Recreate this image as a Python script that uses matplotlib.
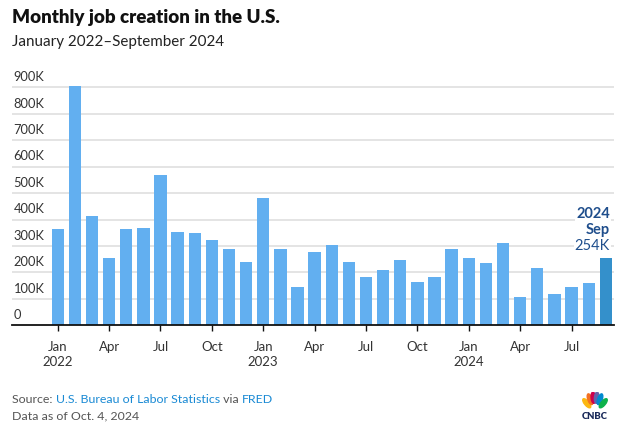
import matplotlib
matplotlib.use("Agg")
import matplotlib.pyplot as plt
import matplotlib.transforms as mtransforms
from matplotlib.patches import Ellipse
import numpy as np

plt.rcParams['font.family'] = ['Lato', 'DejaVu Sans']

# monthly payroll change, thousands (Jan 2022 - Sep 2024)
months = ['Jan', 'Feb', 'Mar', 'Apr', 'May', 'Jun',
          'Jul', 'Aug', 'Sep', 'Oct', 'Nov', 'Dec']
years = [2022, 2023, 2024]
jobs_2022 = [363, 905, 414, 253, 363, 369, 567, 352, 349, 324, 290, 240]
jobs_2023 = [483, 288, 145, 277, 303, 240, 184, 210, 246, 165, 182, 290]
jobs_2024 = [256, 236, 310, 107, 216, 117, 144, 159, 254]
jobs = jobs_2022 + jobs_2023 + jobs_2024

y_ticks = [0, 100, 200, 300, 400, 500, 600, 700, 800, 900]
y_tick_labels = ['0', '100K', '200K', '300K', '400K', '500K',
                 '600K', '700K', '800K', '900K']

bar_col = '#62AFF0'
last_col = '#3490CB'
note_col = '#1F4E8C'

fig = plt.figure(figsize=(6.24, 4.32), dpi=100)
ax = fig.add_axes([0.0192, 0.247, 0.9648, 0.5815])

x = np.arange(len(jobs))
colors = [bar_col] * (len(jobs) - 1) + [last_col]
ax.bar(x, jobs, width=0.72, color=colors, zorder=2)

ax.set_xlim(-2.67, 32.48)
ax.set_ylim(0, 950)

# gridlines + labels sitting on top of them
for v, lab in zip(y_ticks, y_tick_labels):
    if v > 0:
        ax.axhline(v, color='#DCDCDC', lw=1.1, zorder=1)
    ax.text(0.0025, v + 16, lab, transform=ax.get_yaxis_transform(),
            ha='left', va='bottom', fontsize=9.3, color='#333333')

ax.set_yticks([])
for s in ['left', 'right', 'top']:
    ax.spines[s].set_visible(False)
ax.spines['bottom'].set_linewidth(1.3)
ax.spines['bottom'].set_color('#111111')

# quarter ticks
tick_pos = []
tick_lab = []
for i in range(len(jobs)):
    m = i % 12
    if m % 3 == 0:
        tick_pos.append(i)
        if m == 0:
            tick_lab.append(months[m] + '\n' + str(years[i // 12]))
        else:
            tick_lab.append(months[m])
ax.set_xticks(tick_pos)
ax.set_xticklabels(tick_lab, fontsize=9.5, color='#333333', linespacing=1.35)
ax.tick_params(axis='x', length=4, width=1, color='#111111', pad=7)

# last value callout
last = len(jobs) - 1
box = dict(facecolor='white', edgecolor='none', pad=0.5)
ax.annotate('254K', xy=(last + 0.36, jobs[-1]), xytext=(-1.5, 9),
            textcoords='offset points', ha='right', va='center',
            fontsize=10.5, color=note_col, bbox=box, zorder=3)
ax.annotate('Sep', xy=(last + 0.36, jobs[-1]), xytext=(-1.5, 20.5),
            textcoords='offset points', ha='right', va='center',
            fontsize=10.5, color=note_col, fontweight='bold', bbox=box, zorder=3)
ax.annotate('2024', xy=(last + 0.36, jobs[-1]), xytext=(-1.5, 32),
            textcoords='offset points', ha='right', va='center',
            fontsize=10.5, color=note_col, fontweight='bold', bbox=box, zorder=3)

# titles
fig.text(12 / 624, 1 - 22.7 / 432, 'Monthly job creation in the U.S.',
         fontsize=13.5, fontweight='heavy', color='#111111', va='baseline')
fig.text(12 / 624, 1 - 45.7 / 432, 'January 2022\u2013September 2024',
         fontsize=10.9, color='#222222', va='baseline')

# footer
foot_y = 1 - 403 / 432
fsize = 8.9
t = fig.text(12 / 624, foot_y, 'Source: ', fontsize=fsize, color='#555555',
             va='baseline')
parts = [('U.S. Bureau of Labor Statistics', '#1A8AD4'), (' via ', '#555555'),
         ('FRED', '#1A8AD4')]
fig.canvas.draw()
for txt, c in parts:
    ex = t.get_window_extent()
    t = fig.text(0, 0, txt, fontsize=fsize, color=c, va='baseline',
                 transform=mtransforms.offset_copy(fig.transFigure, fig=fig,
                                                   x=ex.x1 / fig.dpi, y=0,
                                                   units='inches'))
    t.set_position((0, foot_y))
    fig.canvas.draw()
fig.text(12 / 624, 1 - 419 / 432, 'Data as of Oct. 4, 2024', fontsize=fsize,
         color='#555555', va='baseline')

# CNBC peacock mark
lax = fig.add_axes([580 / 624, 1 - 424 / 432, 30 / 624, 32 / 432])
lax.set_xlim(-1.0, 1.0)
lax.set_ylim(-1.2, 0.93)
lax.axis('off')
feather_cols = ['#FCB711', '#F37021', '#CC004C', '#6460AA', '#0089D0', '#0DB14B']
feather_x = [-0.55, -0.33, -0.11, 0.11, 0.33, 0.55]
feather_y = [0.18, 0.45, 0.55, 0.55, 0.45, 0.18]
feather_ang = [40, 20, 5, -5, -20, -40]
for fx, fy, fa, c in zip(feather_x, feather_y, feather_ang, feather_cols):
    lax.add_patch(Ellipse((fx, fy), 0.3, 0.75, angle=fa, color=c))
lax.text(0, -0.72, 'CNBC', ha='center', va='center', fontsize=6.8,
         fontweight='heavy', color='#1A2A5A')

fig.savefig('out.png', dpi=100)
